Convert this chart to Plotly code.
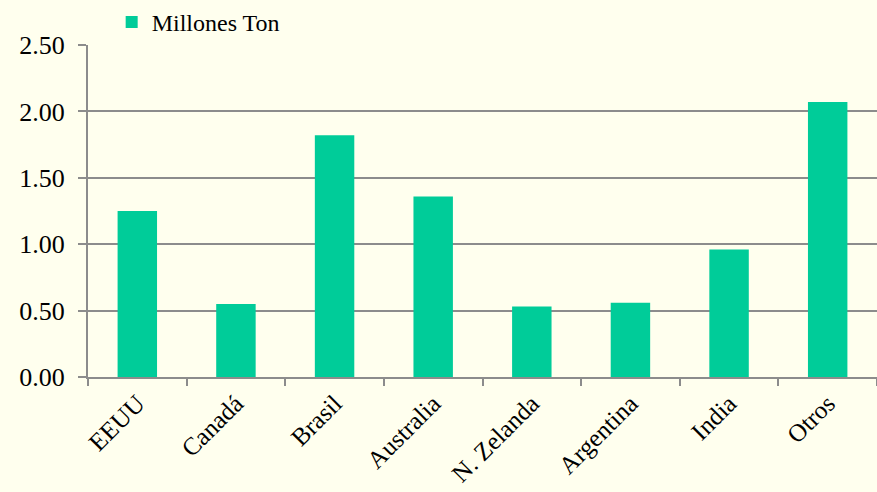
import plotly.graph_objects as go

paises = ["EEUU", "Canadá", "Brasil", "Australia", "N. Zelanda", "Argentina", "India", "Otros"]
millones_ton = [1.25, 0.55, 1.82, 1.36, 0.53, 0.56, 0.96, 2.07]

fondo = "#FFFFEE"
verde = "#00CC99"
gris = "#8C8C8C"
fuente = "Liberation Serif, Times New Roman, serif"

fig = go.Figure()

fig.add_trace(
    go.Bar(
        x=paises,
        y=millones_ton,
        name="Millones Ton",
        marker=dict(color=verde, line=dict(width=0)),
        showlegend=True,
    )
)

fig.update_layout(
    width=877,
    height=492,
    paper_bgcolor=fondo,
    plot_bgcolor=fondo,
    margin=dict(l=88, r=0, t=43, b=115),
    bargap=0.6,
    font=dict(family=fuente, size=25, color="black"),
    showlegend=True,
    legend=dict(
        orientation="h",
        x=0.03,
        y=1.0,
        xanchor="left",
        yanchor="bottom",
        font=dict(size=24),
        bgcolor="rgba(0,0,0,0)",
        itemwidth=30,
    ),
)

fig.update_xaxes(
    type="category",
    tickangle=-45,
    tickson="boundaries",
    ticks="outside",
    ticklen=7,
    tickcolor=gris,
    tickwidth=2,
    showline=True,
    linecolor=gris,
    linewidth=2,
    showgrid=False,
    tickfont=dict(size=25),
)

fig.update_yaxes(
    range=[0, 2.5],
    dtick=0.5,
    tickformat=".2f",
    ticks="outside",
    ticklen=8,
    tickcolor=gris,
    tickwidth=2,
    ticklabelstandoff=8,
    showline=True,
    linecolor=gris,
    linewidth=2,
    showgrid=True,
    gridcolor=gris,
    gridwidth=2,
    zeroline=False,
    tickfont=dict(size=26),
)

# quitar el margen del body para que el grafico ocupe toda la ventana
fig.write_html(
    "out.html",
    config={"displayModeBar": False},
    post_script="document.body.style.margin='0';",
)
